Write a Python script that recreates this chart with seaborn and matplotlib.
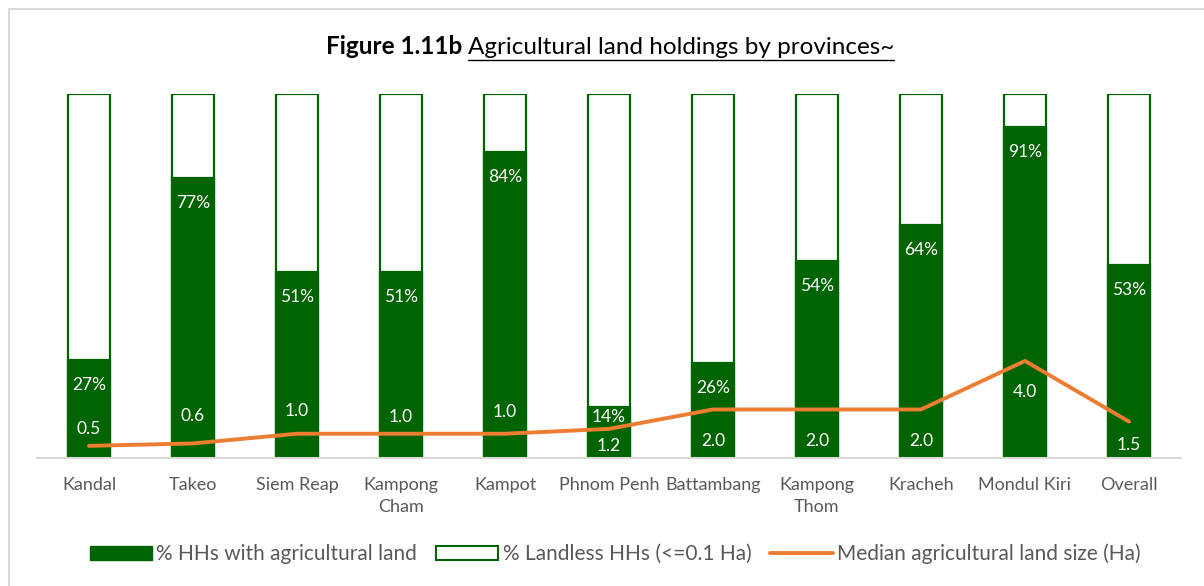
import numpy as np
import pandas as pd
import matplotlib
matplotlib.use("Agg")
import matplotlib.pyplot as plt
import seaborn as sns
from matplotlib.patches import Patch
from matplotlib.lines import Line2D

# ---- data ----
provinces = ["Kandal", "Takeo", "Siem Reap", "Kampong\nCham", "Kampot", "Phnom Penh",
             "Battambang", "Kampong\nThom", "Kracheh", "Mondul Kiri", "Overall"]
pct_with_land = [27, 77, 51, 51, 84, 14, 26, 54, 64, 91, 53]
pct_landless = [73, 23, 49, 49, 16, 86, 74, 46, 36, 9, 47]
median_land_ha = [0.5, 0.6, 1.0, 1.0, 1.0, 1.2, 2.0, 2.0, 2.0, 4.0, 1.5]
series_labels = ["% HHs with agricultural land", "% Landless HHs (<=0.1 Ha)",
                 "Median agricultural land size (Ha)"]
title_bold = "Figure 1.11b"
title_rest = "Agricultural land holdings by provinces~"

# ---- styles ----
GREEN = "#006400"
ORANGE = "#ED7D31"
GREY_TXT = "#595959"
AXIS_GREY = "#D9D9D9"
pct_label_offsets_px = [-25, -25, -25, -25, -25, -10, -25, -25, -25, -25, -25]
line_label_offsets_px = [17, 27, 23, 17, 22, -17, -32, -32, -32, -31, -23]

sns.set_theme(style="white")
plt.rcParams["font.family"] = ["Lato", "DejaVu Sans"]

df = pd.DataFrame({
    "province": provinces,
    "with_land": pct_with_land,
    "landless": pct_landless,
    "median": median_land_ha,
})
df["total"] = df["with_land"] + df["landless"]

W, H = 1204, 586
fig = plt.figure(figsize=(W / 100, H / 100), dpi=100)
ax = fig.add_axes([37 / W, 1 - 458 / H, (1181 - 37) / W, (458 - 94) / H])

# stacked bars: outline bar for full height, green bar on top for the lower segment
sns.barplot(data=df, x="province", y="total", color="white", edgecolor=GREEN,
            linewidth=1.6, width=0.4, saturation=1, ax=ax)
sns.barplot(data=df, x="province", y="with_land", color=GREEN, edgecolor=GREEN,
            linewidth=1.6, width=0.4, saturation=1, ax=ax)
ax.set_ylim(0, 100)
ax.set_xlim(-0.5, len(provinces) - 0.5)

ax.set_xlabel("")
ax.set_ylabel("")
ax.set_yticks([])
for s in ["top", "right", "left"]:
    ax.spines[s].set_visible(False)
ax.spines["bottom"].set_color(AXIS_GREY)
ax.spines["bottom"].set_linewidth(1.5)
ax.tick_params(axis="x", length=0, pad=14, labelsize=13, labelcolor=GREY_TXT)
for lab in ax.get_xticklabels():
    lab.set_linespacing(1.4)
    lab.set_verticalalignment("top")

# line on secondary axis
ax2 = ax.twinx()
sns.lineplot(x=np.arange(len(provinces)), y=df["median"], color=ORANGE,
             linewidth=2.8, ax=ax2)
ax2.set_ylim(0, 15)
ax2.set_xlim(-0.5, len(provinces) - 0.5)
ax2.set_yticks([])
ax2.set_ylabel("")
for s in ax2.spines.values():
    s.set_visible(False)

for i, (v, off) in enumerate(zip(df["with_land"], pct_label_offsets_px)):
    ax2.annotate(f"{v}%", xy=(i, v), xycoords=ax.transData, xytext=(0, off),
                 textcoords="offset pixels", ha="center", va="center",
                 color="white", fontsize=12.5, zorder=5)
for i, (v, off) in enumerate(zip(df["median"], line_label_offsets_px)):
    ax2.annotate(f"{v:.1f}", xy=(i, v), xytext=(0, off), textcoords="offset pixels",
                 ha="center", va="center", color="white", fontsize=12.5, zorder=5)

# legend
handles = [Patch(facecolor=GREEN, edgecolor=GREEN),
           Patch(facecolor="white", edgecolor=GREEN, linewidth=1.5),
           Line2D([0], [0], color=ORANGE, linewidth=2.8)]
fig.legend(handles, series_labels, loc="center", bbox_to_anchor=(615 / W, 1 - 554 / H),
           ncol=3, frameon=False, fontsize=15, handlelength=3.0, handleheight=0.6,
           columnspacing=0.9, handletextpad=0.2, labelcolor=GREY_TXT)

# title with underlined part
renderer = fig.canvas.get_renderer()
base_y = 1 - 54 / H
t1 = fig.text(0, base_y, title_bold + " ", fontsize=17.5, fontweight="bold",
              ha="left", va="baseline", color="black")
t2 = fig.text(0, base_y, title_rest, fontsize=17.5, ha="left", va="baseline", color="black")
w1 = t1.get_window_extent(renderer).width
w2 = t2.get_window_extent(renderer).width
x0 = 610 - (w1 + w2) / 2
t1.set_x(x0 / W)
t2.set_x((x0 + w1) / W)
uy = 1 - 60 / H
fig.add_artist(Line2D([(x0 + w1) / W, (x0 + w1 + w2) / W], [uy, uy], color="black",
                      linewidth=1.0, transform=fig.transFigure))

# chart frame (left & top edges visible)
fig.add_artist(Line2D([8.5 / W, 8.5 / W], [0, 1 - 8.5 / H], color=AXIS_GREY,
                      linewidth=1.5, transform=fig.transFigure))
fig.add_artist(Line2D([8.5 / W, 1], [1 - 8.5 / H, 1 - 8.5 / H], color=AXIS_GREY,
                      linewidth=1.5, transform=fig.transFigure))

fig.savefig("out.png", dpi=100, facecolor="white")
